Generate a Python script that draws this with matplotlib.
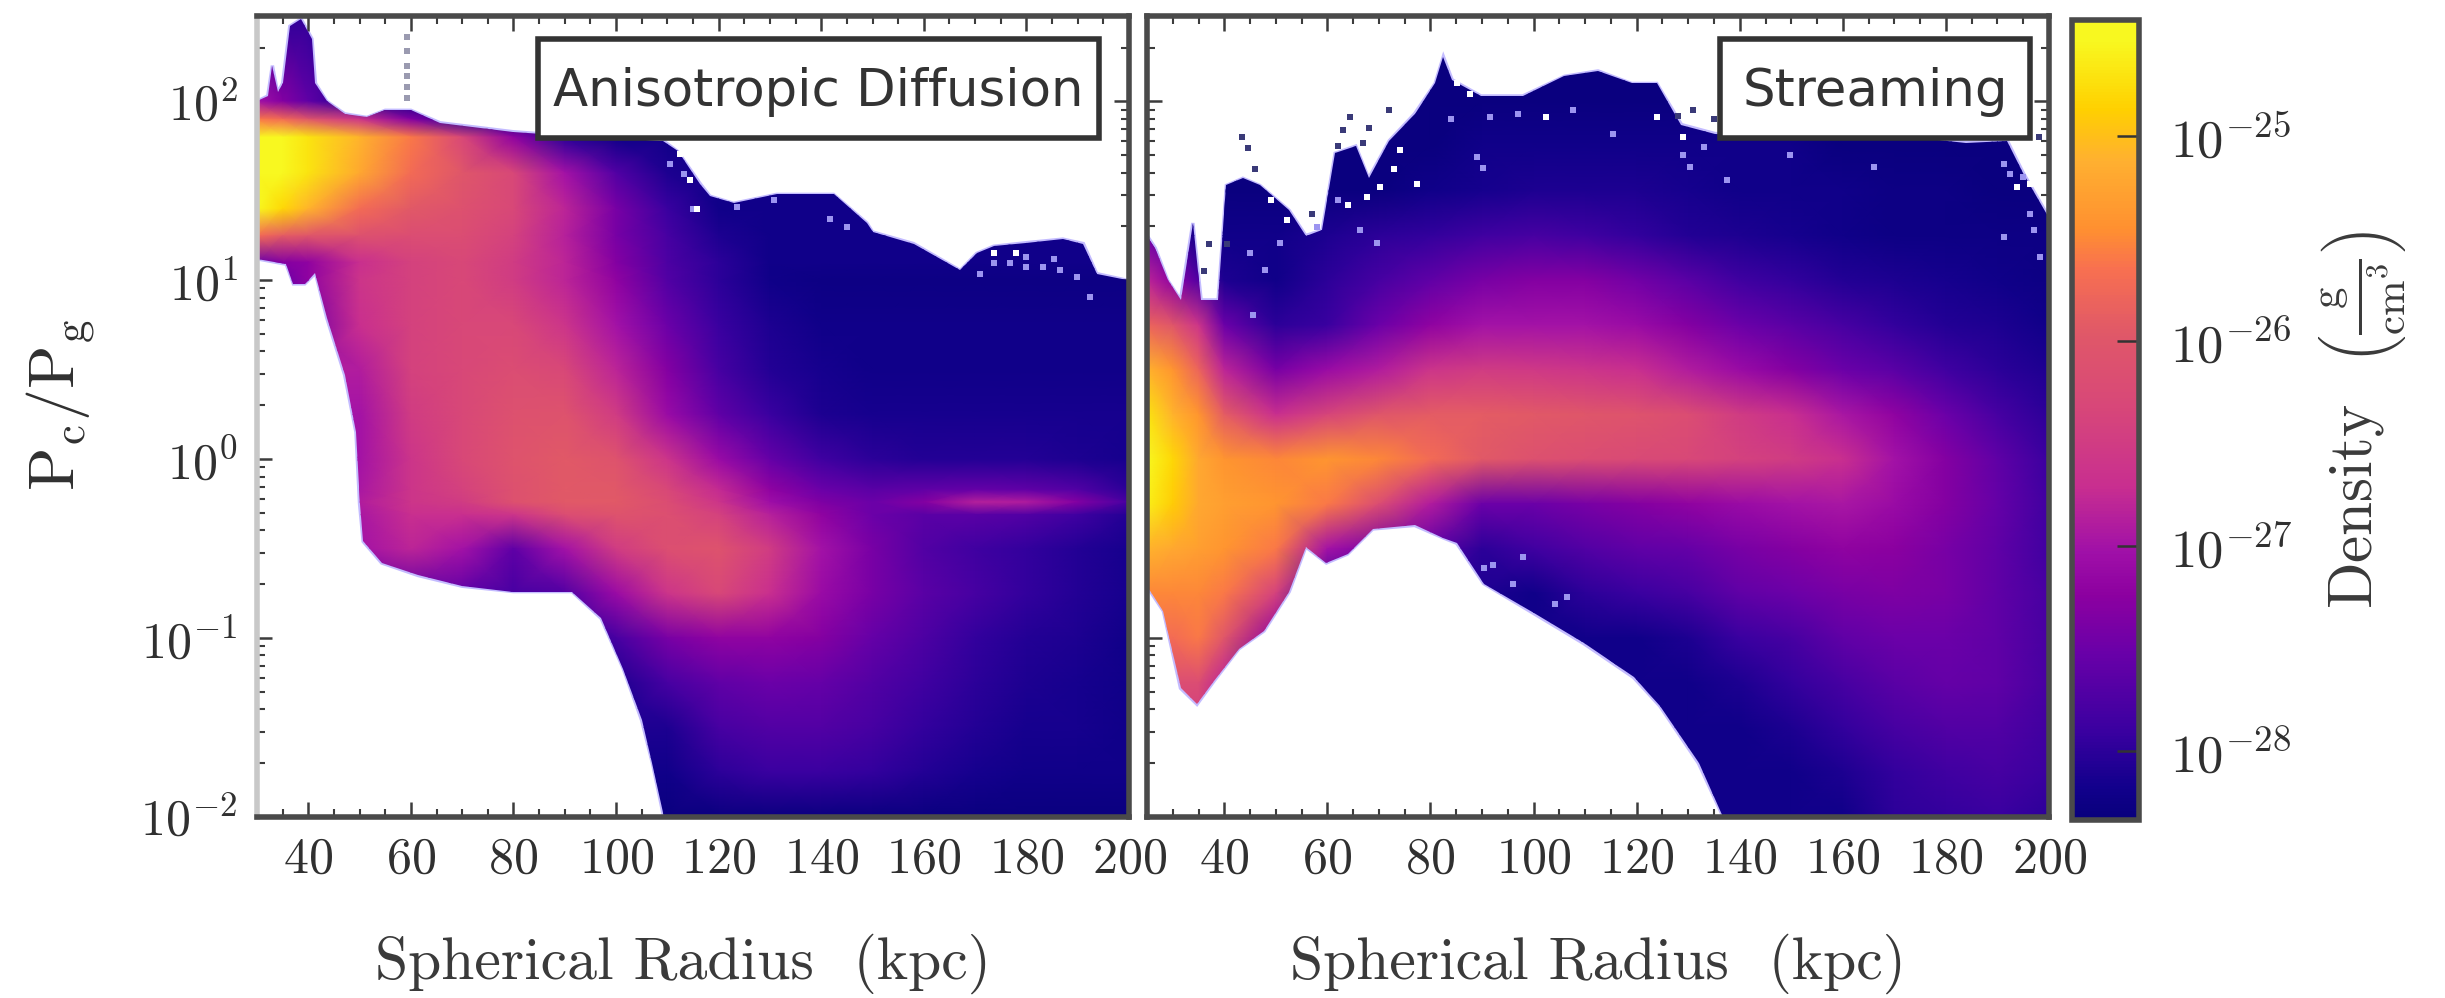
import numpy as np
import matplotlib
matplotlib.use("Agg")
import matplotlib.pyplot as plt
from matplotlib.colors import LogNorm, LinearSegmentedColormap
from matplotlib.cm import ScalarMappable
from matplotlib.patches import Polygon, Rectangle

plt.rcParams['font.family'] = ['cmr10', 'DejaVu Serif']
plt.rcParams['mathtext.fontset'] = 'cm'
plt.rcParams['axes.formatter.use_mathtext'] = True
plt.rcParams['axes.unicode_minus'] = False

# ---- anisotropic diffusion panel ----
aniso_log_ratio = [2.5, 2.0, 1.9, 1.8, 1.6, 1.4, 1.25, 1.1, 1.0, 0.75, 0.5, 0.25, 0.0, -0.17, -0.24, -0.31, -0.5, -0.75, -1.0, -1.25, -1.5, -1.75, -2.0]
radius_aniso = [30, 35, 40, 50, 60, 70, 80, 90, 100, 110, 120, 130, 140, 150, 160, 170, 180, 190, 200]
log_density_aniso = [
    [-28.0,-28.0,-28.0,-28.2,-28.2,-28.2,-28.2,-28.2,-28.2,-28.2,-28.2,-28.2,-28.2,-28.2,-28.2,-28.2,-28.2,-28.2,-28.2],
    [-27.0,-27.3,-27.6,-28.1,-28.2,-28.2,-28.2,-28.2,-28.2,-28.2,-28.2,-28.2,-28.2,-28.2,-28.2,-28.2,-28.2,-28.2,-28.2],
    [-25.6,-25.7,-26.0,-26.6,-27.3,-28.0,-28.2,-28.2,-28.2,-28.2,-28.2,-28.2,-28.2,-28.2,-28.2,-28.2,-28.2,-28.2,-28.2],
    [-24.5,-24.5,-24.7,-25.1,-25.6,-26.3,-27.2,-28.0,-28.2,-28.2,-28.2,-28.2,-28.2,-28.2,-28.2,-28.2,-28.2,-28.2,-28.2],
    [-24.5,-24.5,-24.7,-25.2,-25.7,-26.0,-26.3,-27.0,-27.7,-28.1,-28.2,-28.2,-28.2,-28.2,-28.2,-28.2,-28.2,-28.2,-28.2],
    [-24.5,-24.8,-25.1,-25.7,-25.95,-26.1,-26.3,-26.8,-27.4,-27.9,-28.2,-28.2,-28.2,-28.2,-28.2,-28.2,-28.2,-28.2,-28.2],
    [-25.7,-25.9,-26.0,-26.1,-26.2,-26.2,-26.4,-26.85,-27.4,-27.8,-28.1,-28.2,-28.2,-28.2,-28.2,-28.2,-28.2,-28.2,-28.2],
    [-27.5,-27.3,-27.2,-26.7,-26.4,-26.3,-26.5,-26.8,-27.3,-27.75,-28.0,-28.2,-28.2,-28.2,-28.2,-28.2,-28.2,-28.2,-28.2],
    [-27.5,-27.5,-27.2,-26.6,-26.4,-26.3,-26.5,-26.8,-27.2,-27.7,-28.0,-28.2,-28.25,-28.25,-28.25,-28.25,-28.25,-28.25,-28.25],
    [-27.4,-27.4,-27.4,-26.7,-26.4,-26.3,-26.3,-26.6,-27.0,-27.5,-27.9,-28.1,-28.2,-28.2,-28.2,-28.2,-28.2,-28.2,-28.2],
    [-26.9,-26.9,-26.9,-26.9,-26.4,-26.3,-26.2,-26.3,-26.8,-27.3,-27.8,-28.05,-28.15,-28.2,-28.2,-28.2,-28.2,-28.2,-28.2],
    [-27.0,-27.0,-27.0,-27.0,-26.5,-26.3,-26.1,-26.05,-26.5,-27.1,-27.6,-27.9,-28.1,-28.15,-28.15,-28.15,-28.15,-28.15,-28.15],
    [-27.0,-27.0,-27.0,-27.0,-26.6,-26.3,-26.05,-25.95,-26.05,-26.6,-27.1,-27.55,-27.85,-28.0,-28.05,-28.05,-28.05,-28.1,-28.15],
    [-26.95,-26.95,-26.95,-26.95,-26.6,-26.4,-26.1,-25.95,-25.97,-26.3,-26.75,-27.2,-27.5,-27.65,-27.6,-27.55,-27.6,-27.7,-28.0],
    [-26.9,-26.9,-26.9,-26.9,-26.6,-26.5,-26.1,-25.95,-25.95,-26.2,-26.6,-27.05,-27.35,-27.5,-27.3,-26.85,-26.9,-27.3,-27.8],
    [-26.95,-26.95,-26.95,-26.95,-26.7,-26.7,-26.6,-26.2,-26.05,-26.15,-26.4,-26.85,-27.2,-27.5,-27.65,-27.65,-27.7,-27.85,-28.05],
    [-27.0,-27.0,-27.0,-27.0,-26.8,-27.0,-27.6,-27.0,-26.5,-26.15,-26.05,-26.5,-27.0,-27.4,-27.7,-27.85,-27.95,-28.05,-28.15],
    [-27.6,-27.6,-27.6,-27.6,-27.6,-27.6,-27.8,-27.7,-27.1,-26.6,-26.3,-26.7,-27.1,-27.4,-27.65,-27.8,-27.95,-28.05,-28.15],
    [-28.0,-28.0,-28.0,-28.0,-28.0,-28.0,-28.0,-28.0,-27.8,-27.4,-27.2,-27.2,-27.3,-27.55,-27.75,-27.95,-28.05,-28.1,-28.2],
    [-28.1,-28.1,-28.1,-28.1,-28.1,-28.1,-28.1,-28.1,-28.1,-27.8,-27.6,-27.5,-27.55,-27.7,-27.85,-28.0,-28.1,-28.15,-28.2],
    [-28.1,-28.1,-28.1,-28.1,-28.1,-28.1,-28.1,-28.1,-28.1,-28.1,-27.8,-27.7,-27.7,-27.8,-27.95,-28.05,-28.15,-28.15,-28.2],
    [-28.2,-28.2,-28.2,-28.2,-28.2,-28.2,-28.2,-28.2,-28.2,-28.2,-28.0,-27.9,-27.9,-27.95,-28.05,-28.15,-28.2,-28.2,-28.2],
    [-28.3]*19,
]
aniso_upper_r = [30,32.1,33,34,35,36.4,38.6,40.7,41.4,43.6,47.1,51.4,55,60,65.7,80,94.3,102.9,108.6,109.2,112,116.4,118.3,122.9,131.3,142.4,148.9,150,158,167.1,170.3,173.6,180,187.1,191.1,193.7,199.6,200]
aniso_upper_y = [2.0,2.03,2.2,2.05,2.1,2.42,2.46,2.35,2.10,2.0,1.93,1.91,1.95,1.95,1.88,1.83,1.80,1.79,1.78,1.78,1.72,1.54,1.47,1.43,1.48,1.48,1.32,1.27,1.205,1.055,1.15,1.19,1.21,1.23,1.205,1.037,1.0,1.0]
aniso_lower_r = [30,35.7,37.1,39.3,41.4,43.6,47.1,49.3,50,50.7,54.3,61.4,70,80,91.4,97.1,101.4,105,107.1,109.3]
aniso_lower_y = [1.12,1.09,0.98,0.98,1.04,0.79,0.47,0.15,-0.25,-0.46,-0.58,-0.65,-0.71,-0.74,-0.74,-0.89,-1.17,-1.46,-1.70,-2.0]
aniso_pale_r = [115,123.5,130.7,141.7,145,173.6,176.8,180,183.3,186.6,189.8,171,192.4,180,185.3,110.5,113.2]
aniso_pale_y = [1.40,1.41,1.45,1.345,1.30,1.094,1.094,1.075,1.075,1.056,1.02,1.037,0.908,1.13,1.12,1.65,1.595]
aniso_hole_r = [112.5,114.4,115.7,173.6,178]
aniso_hole_y = [1.708,1.56,1.40,1.15,1.15]
aniso_streak_r = [59.2,59.2,59.2,59.2,59.2,59.2]
aniso_streak_y = [2.02,2.08,2.14,2.2,2.28,2.36]

# ---- streaming panel ----
stream_log_ratio = [2.5, 2.0, 1.75, 1.5, 1.25, 1.0, 0.75, 0.5, 0.25, 0.0, -0.25, -0.5, -0.75, -1.0, -1.25, -1.5, -1.75, -2.0]
radius_stream = [25, 30, 35, 40, 50, 60, 70, 80, 90, 100, 110, 120, 130, 140, 150, 160, 170, 180, 190, 200]
log_density_stream = [
    [-28.3]*20,
    [-28.3]*20,
    [-28.3,-28.3,-28.3,-28.3,-28.3,-28.3,-28.3,-28.3,-28.2,-28.2,-28.2,-28.2,-28.2,-28.2,-28.2,-28.3,-28.3,-28.3,-28.3,-28.3],
    [-28.3,-28.3,-28.3,-28.3,-28.3,-28.3,-28.3,-28.2,-28.15,-28.1,-28.1,-28.1,-28.15,-28.2,-28.2,-28.2,-28.25,-28.25,-28.3,-28.3],
    [-27.5,-27.8,-28.2,-28.2,-28.2,-28.1,-28.0,-27.95,-27.85,-27.8,-27.85,-27.95,-28.05,-28.1,-28.15,-28.2,-28.25,-28.25,-28.25,-28.25],
    [-26.8,-27.2,-27.7,-28.1,-28.2,-28.0,-27.8,-27.6,-27.4,-27.3,-27.3,-27.45,-27.65,-27.85,-27.95,-28.05,-28.1,-28.15,-28.2,-28.25],
    [-25.8,-26.0,-26.6,-27.5,-28.0,-27.9,-27.5,-27.2,-27.0,-27.0,-27.0,-27.1,-27.3,-27.5,-27.65,-27.8,-27.95,-28.05,-28.1,-28.2],
    [-25.1,-25.4,-25.8,-26.8,-27.4,-27.1,-26.9,-26.6,-26.5,-26.55,-26.6,-26.7,-26.9,-27.1,-27.3,-27.5,-27.65,-27.85,-28.0,-28.1],
    [-24.7,-25.1,-25.4,-25.9,-26.7,-26.35,-26.0,-25.9,-25.9,-25.95,-26.0,-26.05,-26.2,-26.5,-26.7,-26.95,-27.2,-27.5,-27.8,-28.0],
    [-24.5,-24.8,-25.2,-25.4,-25.5,-25.4,-25.5,-25.7,-25.95,-26.1,-26.2,-26.25,-26.3,-26.4,-26.5,-26.7,-27.0,-27.3,-27.6,-27.9],
    [-24.6,-24.9,-25.2,-25.3,-25.4,-25.6,-26.2,-26.9,-27.5,-27.5,-27.4,-27.3,-27.2,-27.1,-27.0,-26.95,-27.1,-27.3,-27.55,-27.85],
    [-25.1,-25.2,-25.3,-25.4,-25.6,-27.0,-27.4,-27.6,-28.0,-27.85,-27.7,-27.6,-27.55,-27.4,-27.3,-27.2,-27.25,-27.4,-27.6,-27.85],
    [-25.5,-25.5,-25.5,-25.6,-26.4,-28.0,-28.0,-28.0,-28.1,-28.2,-28.0,-27.9,-27.8,-27.6,-27.5,-27.4,-27.35,-27.4,-27.6,-27.8],
    [-25.7,-25.7,-25.6,-26.0,-27.2,-28.0,-28.0,-28.0,-28.2,-28.2,-28.2,-28.2,-28.1,-27.9,-27.8,-27.6,-27.5,-27.5,-27.6,-27.8],
    [-26.2,-26.2,-26.2,-26.8,-28.0,-28.2,-28.2,-28.2,-28.2,-28.2,-28.2,-28.2,-28.2,-28.1,-27.95,-27.8,-27.65,-27.55,-27.6,-27.8],
    [-26.5,-26.5,-26.5,-27.0,-28.2,-28.2,-28.2,-28.2,-28.2,-28.2,-28.2,-28.2,-28.2,-28.2,-28.1,-27.95,-27.8,-27.7,-27.7,-27.85],
    [-28.2,-28.2,-28.2,-28.2,-28.2,-28.2,-28.2,-28.2,-28.2,-28.2,-28.2,-28.2,-28.2,-28.2,-28.2,-28.1,-27.95,-27.85,-27.8,-27.9],
    [-28.2,-28.2,-28.2,-28.2,-28.2,-28.2,-28.2,-28.2,-28.2,-28.2,-28.2,-28.2,-28.2,-28.2,-28.2,-28.2,-28.0,-27.95,-27.9,-28.0],
]
stream_upper_r = [25,26.6,29,31.5,33.9,35.5,38.8,39.6,40.4,43.6,46.9,52.6,55.8,59,61.5,65.5,68,72,76.9,80.9,82.5,84.2,89.8,97.9,106,112.5,119,123.9,128.7,135.2,151.4,167.6,183.8,191.9,195,200]
stream_upper_y = [1.25,1.18,1.0,0.89,1.32,0.89,0.89,1.21,1.53,1.57,1.53,1.39,1.25,1.28,1.71,1.75,1.57,1.78,1.93,2.10,2.25,2.12,2.03,2.03,2.14,2.17,2.10,2.10,1.87,1.82,1.80,1.82,1.77,1.78,1.60,1.35]
stream_lower_r = [25,28.2,31.5,34.7,38,42.8,47.7,52.6,55.8,59.8,63.9,68.8,76.9,82.5,85.1,90.3,100,109.7,119.4,124.5,132,136.8]
stream_lower_y = [-0.71,-0.85,-1.28,-1.37,-1.24,-1.06,-0.96,-0.74,-0.49,-0.58,-0.53,-0.39,-0.37,-0.44,-0.47,-0.695,-0.862,-1.03,-1.22,-1.38,-1.70,-2.0]
stream_pale_r = [45,47.9,50.8,69.6,66.4,45.6,90.2,89,107.7,97,91.6,115.4,129,130.4,133,137.5,149.8,166,191.2,195,192.4,197,196.3,191.2,198.3,92.2,98,106.4,104.2,96.1,90.3,84,62,58]
stream_pale_y = [1.15,1.056,1.207,1.207,1.279,0.804,1.63,1.69,1.95,1.93,1.91,1.82,1.698,1.633,1.745,1.56,1.698,1.633,1.65,1.577,1.596,1.28,1.37,1.24,1.13,-0.592,-0.546,-0.77,-0.81,-0.695,-0.61,1.9,1.45,1.3]
stream_hole_r = [74.1,77.3,70.2,67.6,52.1,102.5,85.1,87.7,123.9,193.7,196.3,195,129,49,64,73]
stream_hole_y = [1.726,1.54,1.52,1.465,1.335,1.91,2.10,2.04,1.91,1.52,1.54,1.745,1.80,1.45,1.42,1.62]
stream_dark_r = [44.6,43.5,64.4,63,67,46,40.5,36,37,62,128,131,135,198,72,68,57]
stream_dark_y = [1.74,1.80,1.91,1.84,1.77,1.62,1.20,1.05,1.2,1.75,1.92,1.95,1.9,1.8,1.95,1.85,1.37]

r_ticks = [40, 60, 80, 100, 120, 140, 160, 180, 200]
y_ticks = [0.01, 0.1, 1, 10, 100]
y_tick_labels = [r'$10^{\mathrm{-}2}$', r'$10^{\mathrm{-}1}$', '$10^{0}$', '$10^{1}$', '$10^{2}$']
cb_ticks = [1e-28, 1e-27, 1e-26, 1e-25]
cb_tick_labels = [r'$10^{\mathrm{-}28}$', r'$10^{\mathrm{-}27}$', r'$10^{\mathrm{-}26}$', r'$10^{\mathrm{-}25}$']
panel_titles = ['Anisotropic Diffusion', 'Streaming']
cmap_stops = [0.0, 0.04, 0.11, 0.21, 0.28, 0.335, 0.416, 0.52, 0.61, 0.69, 0.74, 0.826, 0.89, 0.976, 1.0]
cmap_colors = ['#08007c', '#12008c', '#3a00a0', '#6a00a8', '#8c00a0', '#a010a8', '#c82e90', '#d84878',
               '#e05868', '#f87050', '#ff9030', '#ffb030', '#ffd000', '#f8f820', '#f8f820']

W, H = 2445, 998
fig = plt.figure(figsize=(W/100, H/100), dpi=100, facecolor='white')
def axpx(x0, y0, x1, y1):
    return fig.add_axes([x0/W, 1-y1/H, (x1-x0)/W, (y1-y0)/H])

norm = LogNorm(vmin=4.6e-29, vmax=3.7e-25)
cmap = LinearSegmentedColormap.from_list('ref', list(zip(cmap_stops, cmap_colors)))
ink = '#3c3c3c'

def specks(ax, r, y, color):
    ax.scatter(r, 10.0**np.array(y), s=24, marker='s', color=color, linewidths=0, zorder=3)

def panel(ax, r, rows, grid, ur, uy, lr, ly, xlim):
    R, Y = np.meshgrid(r, 10.0**np.array(rows))
    m = ax.pcolormesh(R, Y, 10.0**np.array(grid), shading='gouraud', cmap=cmap, norm=norm, zorder=2)
    ax.set_xlim(*xlim); ax.set_ylim(0.01, 300); ax.set_yscale('log')
    verts = list(zip(ur, 10.0**np.array(uy))) + [(200, 0.01)] + list(zip(lr[::-1], 10.0**np.array(ly[::-1])))
    m.set_clip_path(Polygon(verts, closed=True, transform=ax.transData))
    ax.add_patch(Polygon(verts, closed=True, fc='none', ec='#c4bcff', lw=2.5, zorder=1))
    ax.set_xticks(r_ticks)
    ax.set_xticks(np.arange(xlim[0] + (-xlim[0] % 5), 201, 5), minor=True)
    ax.tick_params(which='major', direction='in', top=True, right=True, length=11, width=1.8, color=ink, labelcolor='#303030', labelsize=36, pad=14)
    ax.tick_params(which='minor', direction='in', top=True, right=True, length=6, width=1.5, color=ink)
    for s in ax.spines.values():
        s.set_linewidth(4); s.set_color('#4a4a4a'); s.set_zorder(5)
    ax.set_xlabel('Spherical Radius  (kpc)', fontsize=43, color='#3a3a3a', va='center')

ax1 = axpx(257, 16, 1129, 817)
panel(ax1, radius_aniso, aniso_log_ratio, log_density_aniso, aniso_upper_r, aniso_upper_y, aniso_lower_r, aniso_lower_y, (30, 200))
ax1.set_yticks(y_ticks, y_tick_labels)
ax1.spines['left'].set_color('#c8c8c8')
ax1.set_ylabel(r'$\mathrm{P_c/P_g}$', fontsize=46, color='#303030', va='center')
ax1.yaxis.set_label_coords(-0.225, 0.515)
ax1.xaxis.set_label_coords(0.488, -0.183)
specks(ax1, aniso_pale_r, aniso_pale_y, '#9c94f0')
specks(ax1, aniso_hole_r, aniso_hole_y, '#ffffff')
specks(ax1, aniso_streak_r, aniso_streak_y, '#9a9ab0')

ax2 = axpx(1147, 16, 2049, 817)
panel(ax2, radius_stream, stream_log_ratio, log_density_stream, stream_upper_r, stream_upper_y, stream_lower_r, stream_lower_y, (25, 200))
ax2.set_yticks(y_ticks, [''] * 5)
ax2.xaxis.set_label_coords(0.5, -0.183)
specks(ax2, stream_pale_r, stream_pale_y, '#9c94f0')
specks(ax2, stream_hole_r, stream_hole_y, '#ffffff')
specks(ax2, stream_dark_r, stream_dark_y, '#3a3a78')

for ax, title, x0, x1 in [(ax1, panel_titles[0], 0.322, 0.966), (ax2, panel_titles[1], 0.635, 0.979)]:
    ax.add_patch(Rectangle((x0, 0.848), x1 - x0, 0.123, transform=ax.transAxes, fc='white', ec='#333333', lw=4, zorder=4))
    ax.text((x0 + x1) / 2, 0.905, title, transform=ax.transAxes, ha='center', va='center', family='DejaVu Sans',
            fontsize=37, color='#333333', zorder=5)

cax = axpx(2072, 20, 2139, 820)
cb = fig.colorbar(ScalarMappable(norm=norm, cmap=cmap), cax=cax)
cb.set_ticks(cb_ticks, labels=cb_tick_labels)
cb.minorticks_off()
cax.tick_params(which='major', direction='in', length=16, width=1.8, color='#333333', labelcolor='#303030', labelsize=38, pad=22)
cb.outline.set_linewidth(4); cb.outline.set_edgecolor('#4a4a4a')
cb.set_label(r'Density  $\left(\frac{\mathrm{g}}{\mathrm{cm}^3}\right)$', fontsize=44, color='#3a3a3a', va='center')
cax.yaxis.set_label_coords(4.33, 0.5)

fig.savefig('out.png', dpi=100)
